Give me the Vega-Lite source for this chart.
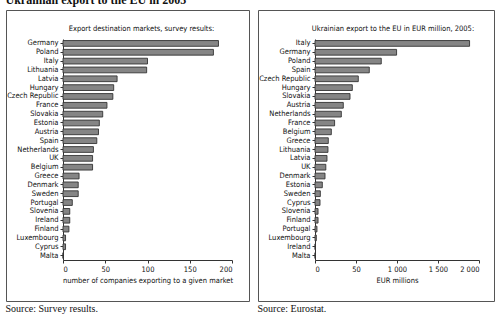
{
  "$schema": "https://vega.github.io/schema/vega-lite/v6.json",
  "padding": {"left": 5, "top": -7, "right": 0, "bottom": 0},
  "background": "white",
  "title": {"text": "Ukrainian export to the EU in 2005", "anchor": "start", "font": "Liberation Serif", "fontSize": 12, "fontWeight": "bold", "color": "#111", "offset": 3},
  "datasets": {
    "survey": [
      {"country": "Germany", "companies": 184},
      {"country": "Poland", "companies": 178},
      {"country": "Italy", "companies": 100},
      {"country": "Lithuania", "companies": 99},
      {"country": "Latvia", "companies": 64},
      {"country": "Hungary", "companies": 60},
      {"country": "Czech Republic", "companies": 59},
      {"country": "France", "companies": 52},
      {"country": "Slovakia", "companies": 47},
      {"country": "Estonia", "companies": 43},
      {"country": "Austria", "companies": 42},
      {"country": "Spain", "companies": 40},
      {"country": "Netherlands", "companies": 36},
      {"country": "UK", "companies": 35},
      {"country": "Belgium", "companies": 35},
      {"country": "Greece", "companies": 19},
      {"country": "Denmark", "companies": 18},
      {"country": "Sweden", "companies": 18},
      {"country": "Portugal", "companies": 11},
      {"country": "Slovenia", "companies": 8},
      {"country": "Ireland", "companies": 8},
      {"country": "Finland", "companies": 7},
      {"country": "Luxembourg", "companies": 3},
      {"country": "Cyprus", "companies": 3},
      {"country": "Malta", "companies": 0}
    ],
    "eurostat": [
      {"country": "Italy", "eur": 1885},
      {"country": "Germany", "eur": 995},
      {"country": "Poland", "eur": 808},
      {"country": "Spain", "eur": 662},
      {"country": "Czech Republic", "eur": 528},
      {"country": "Hungary", "eur": 455},
      {"country": "Slovakia", "eur": 427},
      {"country": "Austria", "eur": 345},
      {"country": "Netherlands", "eur": 321},
      {"country": "France", "eur": 239},
      {"country": "Belgium", "eur": 199},
      {"country": "Greece", "eur": 162},
      {"country": "Lithuania", "eur": 158},
      {"country": "Latvia", "eur": 146},
      {"country": "UK", "eur": 132},
      {"country": "Denmark", "eur": 122},
      {"country": "Estonia", "eur": 89},
      {"country": "Sweden", "eur": 65},
      {"country": "Cyprus", "eur": 61},
      {"country": "Slovenia", "eur": 37},
      {"country": "Finland", "eur": 37},
      {"country": "Portugal", "eur": 24},
      {"country": "Luxembourg", "eur": 16},
      {"country": "Ireland", "eur": 2},
      {"country": "Malta", "eur": 1}
    ]
  },
  "spacing": 7,
  "hconcat": [
    {
      "title": {"text": "Source: Survey results.", "orient": "bottom", "anchor": "start", "font": "Liberation Serif", "fontSize": 10, "fontWeight": "normal", "color": "#111", "offset": 2},
      "vconcat": [
        {
          "width": 243,
          "height": 291,
          "data": {"name": "survey"},
          "title": {"text": "Export destination markets, survey results:", "anchor": "middle", "offset": -22, "dx": 14, "fontSize": 7.5, "fontWeight": "normal", "font": "Liberation Sans Narrow, DejaVu Sans Condensed, sans-serif", "color": "#111"},
          "mark": {"type": "bar", "fill": "#858585", "stroke": "#333", "strokeWidth": 0.9},
          "encoding": {
            "y": {"field": "country", "type": "nominal", "sort": null,
                  "scale": {"range": [29, 250], "paddingInner": 0.35, "paddingOuter": 0.175},
                  "axis": {"title": null, "offset": -57, "labelPadding": 2}},
            "x": {"field": "companies", "type": "quantitative",
                  "scale": {"domain": [0, 200], "range": [57, 226], "nice": false, "zero": true},
                  "axis": {"title": "number of companies exporting to a given market", "values": [0, 50, 100, 150, 200], "offset": -41}}
          }
        }
      ]
    },
    {
      "title": {"text": "Source: Eurostat.", "orient": "bottom", "anchor": "start", "font": "Liberation Serif", "fontSize": 10, "fontWeight": "normal", "color": "#111", "offset": 2},
      "vconcat": [
        {
          "width": 236,
          "height": 291,
          "data": {"name": "eurostat"},
          "title": {"text": "Ukrainian export to the EU in EUR million, 2005:", "anchor": "middle", "offset": -22, "dx": 17, "fontSize": 7.5, "fontWeight": "normal", "font": "Liberation Sans Narrow, DejaVu Sans Condensed, sans-serif", "color": "#111"},
          "mark": {"type": "bar", "fill": "#858585", "stroke": "#333", "strokeWidth": 0.9},
          "encoding": {
            "y": {"field": "country", "type": "nominal", "sort": null,
                  "scale": {"range": [29, 250], "paddingInner": 0.35, "paddingOuter": 0.175},
                  "axis": {"title": null, "offset": -57, "labelPadding": 2}},
            "x": {"field": "eur", "type": "quantitative",
                  "scale": {"domain": [0, 2000], "range": [57, 221], "nice": false, "zero": true},
                  "axis": {"title": "EUR millions", "values": [0, 500, 1000, 1500, 2000], "offset": -41,
                           "labelExpr": "datum.value == 500 ? '50' : replace(format(datum.value, ','), ',', ' ')"}}
          }
        }
      ]
    }
  ],
  "config": {
    "view": {"stroke": "#555", "strokeWidth": 1},
    "axis": {
      "grid": false,
      "domainColor": "#333",
      "tickColor": "#333",
      "tickSize": 3,
      "labelColor": "#111",
      "labelFont": "Liberation Sans Narrow, DejaVu Sans Condensed, sans-serif",
      "labelFontSize": 7.5,
      "titleFont": "Liberation Sans Narrow, DejaVu Sans Condensed, sans-serif",
      "titleFontSize": 7.5,
      "titleFontWeight": "normal",
      "titleColor": "#111",
      "titlePadding": 4
    },
    "axisY": {"labelFontSize": 7.5}
  }
}
